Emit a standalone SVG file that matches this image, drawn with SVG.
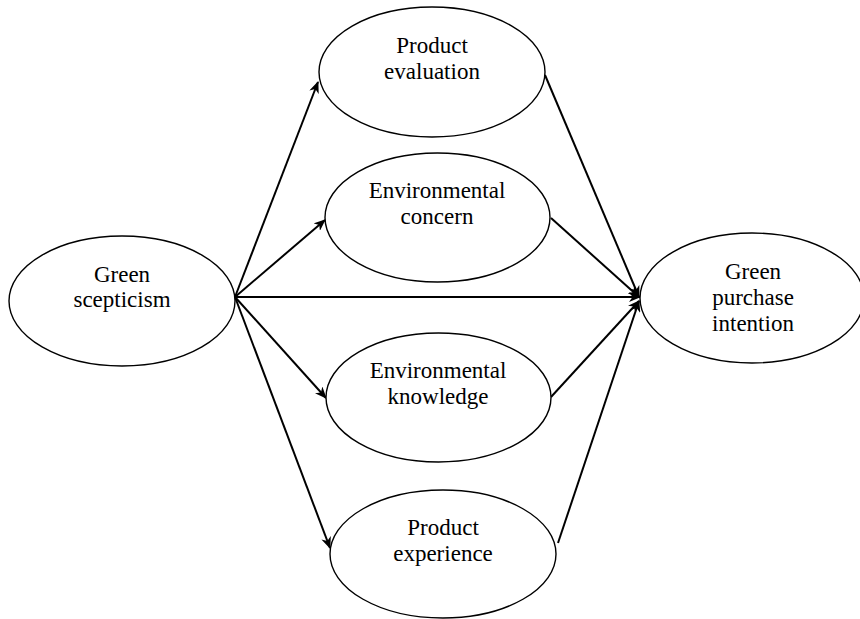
<svg xmlns="http://www.w3.org/2000/svg" width="860" height="619" viewBox="0 0 860 619">
<style>
.node ellipse{fill:#fff;stroke:#000;stroke-width:1.4}
.node text{font-family:"Liberation Serif","Times New Roman",serif;font-size:23px;fill:#000;text-anchor:middle}
.conn line{stroke:#000;stroke-width:2}
</style>
<defs>
<marker id="arr" viewBox="0 0 12 10" refX="11" refY="5" markerWidth="12" markerHeight="10" markerUnits="userSpaceOnUse" orient="auto">
<path d="M0,0 L12,5 L0,10 L3.5,5 z" fill="#000"/>
</marker>
</defs>
<rect width="860" height="619" fill="#fff"/>
<g id="connectors" class="conn">
<line x1="235" y1="297" x2="318" y2="82" marker-end="url(#arr)"/>
<line x1="235" y1="297" x2="325" y2="220" marker-end="url(#arr)"/>
<line x1="235" y1="297" x2="640" y2="297" marker-end="url(#arr)"/>
<line x1="235" y1="297" x2="326" y2="398" marker-end="url(#arr)"/>
<line x1="235" y1="297" x2="330" y2="548" marker-end="url(#arr)"/>
<line x1="545" y1="75" x2="639" y2="297" marker-end="url(#arr)"/>
<line x1="551" y1="218" x2="639" y2="297" marker-end="url(#arr)"/>
<line x1="551" y1="397" x2="639" y2="301" marker-end="url(#arr)"/>
<line x1="558" y1="543" x2="639" y2="301" marker-end="url(#arr)"/>
</g>
<g id="green-scepticism" class="node">
<ellipse cx="122" cy="301" rx="113" ry="65"/>
<text x="122" y="282">Green</text>
<text x="122" y="307">scepticism</text>
</g>
<g id="product-evaluation" class="node">
<ellipse cx="432" cy="72" rx="113" ry="65"/>
<text x="432" y="53">Product</text>
<text x="432" y="79">evaluation</text>
</g>
<g id="environmental-concern" class="node">
<ellipse cx="437.5" cy="217.5" rx="112.5" ry="64.5"/>
<text x="437" y="198">Environmental</text>
<text x="437" y="224">concern</text>
</g>
<g id="environmental-knowledge" class="node">
<ellipse cx="438.5" cy="397.5" rx="112.5" ry="64.5"/>
<text x="438" y="378">Environmental</text>
<text x="438" y="404">knowledge</text>
</g>
<g id="product-experience" class="node">
<ellipse cx="443" cy="554" rx="113" ry="64"/>
<text x="443" y="535">Product</text>
<text x="443" y="561">experience</text>
</g>
<g id="green-purchase-intention" class="node">
<ellipse cx="752" cy="298" rx="112" ry="65"/>
<text x="753" y="279">Green</text>
<text x="753" y="305">purchase</text>
<text x="753" y="331">intention</text>
</g>
</svg>
